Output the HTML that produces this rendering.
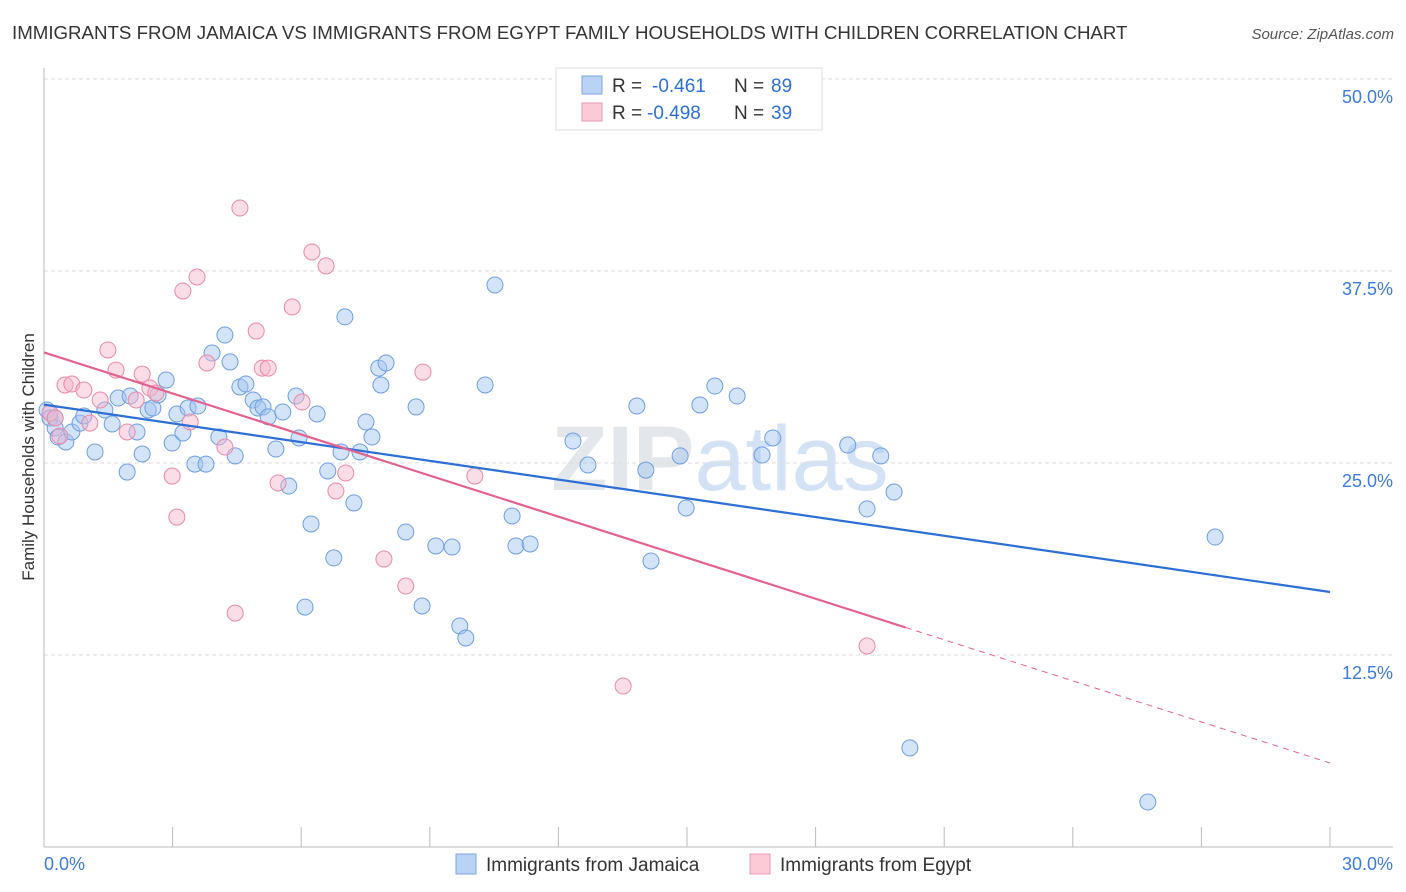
<!DOCTYPE html>
<html><head><meta charset="utf-8"><style>
body{margin:0;background:#fff;font-family:"Liberation Sans",sans-serif;}
svg{display:block}
</style></head><body>
<svg id="chart" width="1406" height="892" xmlns="http://www.w3.org/2000/svg">
<text x="12" y="39" font-size="18.7" fill="#333">IMMIGRANTS FROM JAMAICA VS IMMIGRANTS FROM EGYPT FAMILY HOUSEHOLDS WITH CHILDREN CORRELATION CHART</text>
<text x="1394" y="39" font-size="15" fill="#555" text-anchor="end" font-style="italic">Source: ZipAtlas.com</text>
<text x="720" y="490" font-size="92" text-anchor="middle" fill="#e3e7ec" font-weight="bold">ZIP<tspan fill="#d3e2f4" font-weight="normal">atlas</tspan></text>
<g id="grid"></g>
<g id="marks"></g>
<text transform="translate(34,457) rotate(-90)" font-size="17" fill="#333" text-anchor="middle">Family Households with Children</text>
<g>
<rect x="556" y="68" width="266" height="62" fill="#fff" stroke="#ddd"/>
<rect x="582" y="76" width="20" height="18" fill="#b9d3f5" stroke="#7aa6e0"/>
<rect x="582" y="103" width="20" height="18" fill="#fcc9d7" stroke="#eb98b3"/>
<text y="92" font-size="19" fill="#333"><tspan x="612">R =</tspan><tspan x="652" fill="#2d6fd4">-0.461</tspan><tspan x="734">N =</tspan><tspan x="771" fill="#2d6fd4">89</tspan></text>
<text y="119" font-size="19" fill="#333"><tspan x="612">R =</tspan><tspan x="647" fill="#2d6fd4">-0.498</tspan><tspan x="734">N =</tspan><tspan x="771" fill="#2d6fd4">39</tspan></text>
</g>
<g>
<rect x="456" y="854" width="20" height="20" fill="#b9d3f5" stroke="#7aa6e0"/>
<text x="486" y="871" font-size="19" fill="#333">Immigrants from Jamaica</text>
<rect x="750" y="854" width="20" height="20" fill="#fcc9d7" stroke="#eb98b3"/>
<text x="780" y="871" font-size="19" fill="#333">Immigrants from Egypt</text>
</g>
</svg>
<script>
const yTicks=[12.5,25,37.5,50];
const yTickLabels=["12.5%","25.0%","37.5%","50.0%"];
const xTickVals=[0,3,6,9,12,15,18,21,24,27,30];
const jamaicaX=[0.07,0.14,0.26,0.33,0.51,0.65,0.84,0.93,1.19,1.42,1.59,1.73,1.94,2.01,2.17,2.29,2.43,2.54,2.66,2.85,2.99,3.10,3.24,3.36,3.52,3.59,3.78,3.92,4.08,4.22,4.34,4.46,4.57,4.71,4.88,4.99,5.11,5.23,5.41,5.57,5.71,5.88,5.95,6.09,6.23,6.37,6.62,6.76,6.93,7.02,7.23,7.37,7.51,7.65,7.81,7.86,7.98,8.44,8.68,8.82,9.14,9.52,9.70,9.84,10.29,10.52,10.92,11.01,11.34,12.34,12.69,13.83,14.04,14.16,14.84,14.98,15.30,15.65,16.17,16.75,17.00,18.75,19.20,19.52,19.83,20.20,25.75,27.32,0.26];
const jamaicaY=[28.45,27.93,27.28,26.69,26.37,27.02,27.60,28.06,25.72,28.45,27.54,29.23,24.41,29.36,27.02,25.59,28.45,28.58,29.43,30.40,26.30,28.19,26.95,28.58,24.93,28.71,24.93,32.16,26.69,33.33,31.58,25.46,29.95,30.14,29.10,28.58,28.65,28.00,25.91,28.32,23.50,29.36,26.63,15.62,21.03,28.19,24.48,18.82,25.72,34.51,22.40,25.72,27.67,26.69,31.18,30.08,31.51,20.51,28.65,15.69,19.60,19.53,14.39,13.61,30.08,36.59,21.55,19.60,19.73,26.43,24.87,28.71,24.54,18.62,25.46,22.07,28.78,30.01,29.36,25.52,26.63,26.17,22.01,25.46,23.11,6.45,2.93,20.18,27.93];
const egyptX=[0.14,0.26,0.37,0.49,0.65,0.93,1.07,1.31,1.49,1.68,1.94,2.15,2.29,2.47,2.61,2.99,3.10,3.24,3.41,3.57,3.80,4.22,4.57,4.95,5.09,5.23,5.46,5.79,6.02,6.25,6.58,6.81,7.04,7.93,8.44,8.84,10.05,13.51,19.20,4.46];
const egyptY=[28.26,27.93,26.76,30.08,30.14,29.75,27.60,29.10,32.36,31.05,27.02,29.10,30.79,29.88,29.56,24.15,21.48,36.20,27.67,37.11,31.51,26.04,41.60,33.59,31.18,31.18,23.70,35.16,28.97,38.74,37.83,23.18,24.35,18.75,16.99,30.92,24.15,10.48,13.09,15.23];
const jamaicaTrend=[28.8,16.6];
const egyptTrend=[32.2,5.47];
const egyptSolidEnd=20.1;

const X0=44,X1=1330,Y0=847,PXPCT=15.36;
const sx=v=>X0+(X1-X0)*v/30;
const sy=v=>Y0-v*PXPCT;
const NS="http://www.w3.org/2000/svg";
const grid=document.getElementById('grid'),marks=document.getElementById('marks');
function mk(tag,attrs,parent){const e=document.createElementNS(NS,tag);for(const k in attrs)e.setAttribute(k,attrs[k]);parent.appendChild(e);return e;}
yTicks.forEach((t,i)=>{
  const l=mk('line',{x1:X0,x2:1393,y1:sy(t),y2:sy(t),stroke:'#ddd','stroke-dasharray':'4,3'},grid);
  
  
  const tx=mk('text',{x:1393,y:sy(t)+24,'font-size':18,fill:'#3d7bd6','text-anchor':'end'},grid);
  tx.textContent=yTickLabels[i];
  
  
});
const ax=mk('line',{x1:X0,x2:1393,y1:Y0,y2:Y0,stroke:'#bbb'},grid);


const ay=mk('line',{x1:X0,x2:X0,y1:68,y2:Y0,stroke:'#bbb'},grid);


xTickVals.forEach(v=>{
  const t=mk('line',{x1:sx(v),x2:sx(v),y1:Y0-20,y2:Y0,stroke:'#bbb'},grid);
  
  
});
[[0,'0.0%','start',X0],[30,'30.0%','end',1393]].forEach(a=>{
  const t=mk('text',{x:a[3],y:870,'font-size':18,fill:'#3d7bd6','text-anchor':a[2]},grid);
  t.textContent=a[1];
  
  
});
jamaicaX.forEach((x,i)=>{
  const c=mk('circle',{cx:sx(x),cy:sy(jamaicaY[i]),r:8,fill:'rgba(160,195,240,0.45)',stroke:'#6d9ee0','stroke-width':1},marks);
  
  
});
egyptX.forEach((x,i)=>{
  const c=mk('circle',{cx:sx(x),cy:sy(egyptY[i]),r:8,fill:'rgba(247,180,202,0.45)',stroke:'#e88aa8','stroke-width':1},marks);
  
  
});
const jl=mk('line',{x1:sx(0),y1:sy(jamaicaTrend[0]),x2:sx(30),y2:sy(jamaicaTrend[1]),stroke:'#2d6fd4','stroke-width':2.2},marks);


const ey=v=>egyptTrend[0]+(egyptTrend[1]-egyptTrend[0])*v/30;
const el1=mk('line',{x1:sx(0),y1:sy(ey(0)),x2:sx(egyptSolidEnd),y2:sy(ey(egyptSolidEnd)),stroke:'#e4628f','stroke-width':2.2},marks);


const el2=mk('line',{x1:sx(egyptSolidEnd),y1:sy(ey(egyptSolidEnd)),x2:sx(30),y2:sy(ey(30)),stroke:'#e4628f','stroke-width':1,'stroke-dasharray':'6,5'},marks);


</script>
</body></html>
